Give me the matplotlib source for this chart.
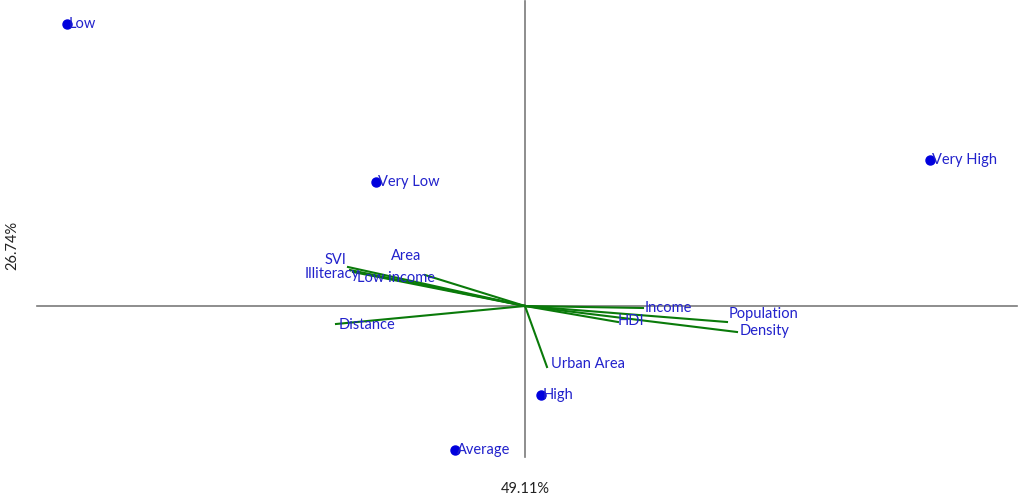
import matplotlib.pyplot as plt

# PCA biplot: category scores (blue points) and variable loadings (green lines)
point_names = ["Low", "Very Low", "Very High", "High", "Average"]
point_x = [-4.58, -1.49, 4.05, 0.16, -0.70]
point_y = [2.82, 1.24, 1.46, -0.89, -1.44]

var_names = ["SVI", "Illiteracy", "Low income", "Area", "Distance",
             "Urban Area", "Income", "HDI", "Population", "Density"]
var_x = [-1.77, -1.75, -1.72, -1.00, -1.89, 0.22, 1.18, 0.93, 2.02, 2.12]
var_y = [0.39, 0.36, 0.34, 0.31, -0.18, -0.61, -0.02, -0.16, -0.16, -0.26]

x_label = "49.11%"
y_label = "26.74%"

# label offsets (data units) where the labels were nudged apart
label_dx = [-0.23, -0.45, 0.04, -0.34, 0.03, 0.04, 0.02, 0.0, 0.02, 0.03]
label_dy = [0.08, -0.03, -0.05, 0.20, 0.0, 0.04, 0.01, 0.02, 0.09, 0.02]

plt.rcParams['font.family'] = ['Lato', 'DejaVu Sans']

fig = plt.figure(figsize=(10.21, 5.02), dpi=100)
ax = fig.add_axes([0, 0, 1, 1])
ax.set_xlim(-5.25, 4.96)
ax.set_ylim(-1.95, 3.07)
ax.axis('off')

# axis cross
ax.plot([-4.88, 4.92], [0, 0], color='#7a7a7a', lw=1.2, zorder=1)
ax.plot([0, 0], [-1.51, 3.05], color='#7a7a7a', lw=1.2, zorder=1)

# loadings
for name, x, y, dx, dy in zip(var_names, var_x, var_y, label_dx, label_dy):
    ax.plot([0, x], [0, y], color='#0a7a0a', lw=1.5, zorder=2)
    ax.text(x + dx, y + dy, name, color='#2222cc', fontsize=10.5,
            ha='left', va='center', zorder=3)

# scores
ax.plot(point_x, point_y, 'o', color='#0000dd', ms=6.5, zorder=4)
for name, x, y in zip(point_names, point_x, point_y):
    ax.text(x + 0.02, y + 0.01, name, color='#2222cc', fontsize=10.5,
            ha='left', va='center', zorder=4)

fig.text(525 / 1021, 1 - 489 / 502, x_label, ha='center', va='center',
         fontsize=10.5, color='#222222')
fig.text(12 / 1021, 1 - 245 / 502, y_label, ha='center', va='center',
         fontsize=10.5, color='#222222', rotation=90)

fig.savefig('out.png', dpi=100)
